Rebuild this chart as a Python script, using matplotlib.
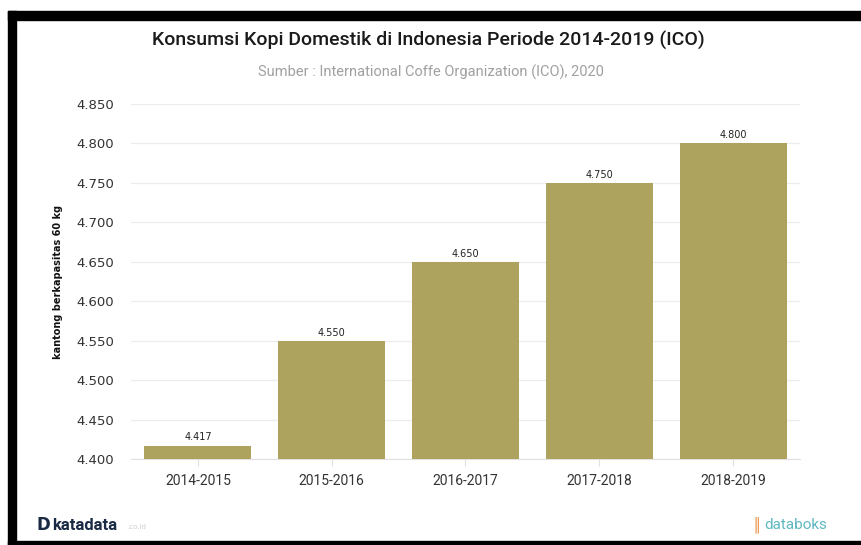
import matplotlib
matplotlib.use("Agg")
import matplotlib.pyplot as plt
from matplotlib.patches import Rectangle

periods = ["2014-2015", "2015-2016", "2016-2017", "2017-2018", "2018-2019"]
consumption = [4.417, 4.550, 4.650, 4.750, 4.800]
y_ticks = [4.40, 4.45, 4.50, 4.55, 4.60, 4.65, 4.70, 4.75, 4.80, 4.85]

def fmt(v):
    return f"{v:.3f}"

W, H = 862, 545
fig = plt.figure(figsize=(W / 100, H / 100), dpi=100)
fig.patch.set_facecolor("white")

ax = fig.add_axes([131 / W, (H - 459) / H, (800 - 131) / W, (459 - 104) / H])
x = list(range(len(periods)))
ax.bar(x, consumption, width=0.8, color="#ada25e", zorder=3)
ax.set_ylim(4.40, 4.85)
ax.set_xlim(-0.5, len(periods) - 0.5)
ax.set_yticks(y_ticks)
ax.set_yticklabels([fmt(v) for v in y_ticks], fontfamily="DejaVu Sans", fontsize=9.5, color="#333333")
ax.set_xticks(x)
ax.set_xticklabels(periods, fontfamily="Roboto", fontsize=10, color="#333333")
ax.tick_params(axis="y", length=0, pad=12)
ax.tick_params(axis="x", length=5, color="#e0e0e0", pad=6)
ax.grid(axis="y", color="#ececec", linewidth=0.9, zorder=0)
for s in ["top", "right", "left"]:
    ax.spines[s].set_visible(False)
ax.spines["bottom"].set_color("#e0e0e0")

for xi, v in zip(x, consumption):
    ax.text(xi, v + 0.004, fmt(v), ha="center", va="bottom", fontsize=7, color="#222222",
            fontfamily="DejaVu Sans")

ax.set_ylabel("kantong berkapasitas 60 kg", fontsize=7, fontweight="bold",
              fontfamily="DejaVu Sans", color="#111111", labelpad=10)

fig.text(0.497, 1 - 40 / H, "Konsumsi Kopi Domestik di Indonesia Periode 2014-2019 (ICO)",
         ha="center", va="center", fontsize=14, fontfamily="Roboto", fontweight="medium",
         color="#1a1a1a")
fig.text(0.5, 1 - 72 / H, "Sumber : International Coffe Organization (ICO), 2020",
         ha="center", va="center", fontsize=10.5, fontfamily="Roboto", color="#a0a0a0")

# branding
fig.text(37 / W, 1 - 525 / H, "D", ha="left", va="center", fontsize=12, fontweight="bold",
         fontfamily="DejaVu Sans", color="#1a2a44")
fig.text(52 / W, 1 - 525 / H, "katadata", ha="left", va="center", fontsize=12, fontweight="bold",
         fontfamily="Roboto", color="#1a2a44")
fig.text(127 / W, 1 - 527 / H, ".co.id", ha="left", va="center", fontsize=5, color="#cccccc")
fig.text(752 / W, 1 - 525 / H, "\u2551", ha="left", va="center", fontsize=10, color="#e8893a")
fig.text(764 / W, 1 - 525 / H, "databoks", ha="left", va="center", fontsize=11,
         fontfamily="Roboto", color="#5fb8c0")

# black frame
def rect(x0, y0, x1, y1):
    fig.patches.append(Rectangle((x0 / W, 1 - y1 / H), (x1 - x0) / W, (y1 - y0) / H,
                                 transform=fig.transFigure, color="black", zorder=10))
rect(8, 11, 862, 20)
rect(8, 11, 16, 545)
rect(8, 541, 862, 545)

fig.savefig("out.png", dpi=100, facecolor="white")
